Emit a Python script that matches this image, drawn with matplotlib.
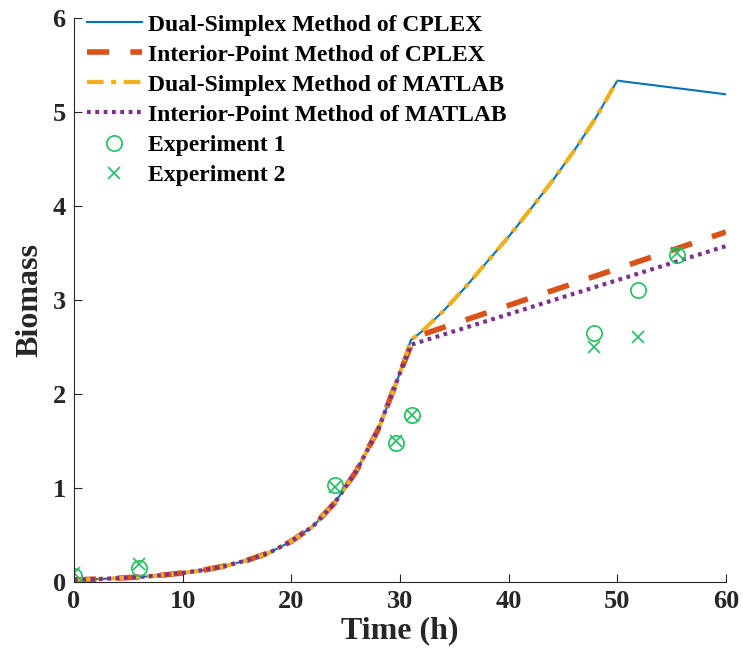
import matplotlib
matplotlib.use("Agg")
import matplotlib.pyplot as plt

plt.rcParams['font.family'] = ['Liberation Serif', 'DejaVu Serif']
plt.rcParams['font.weight'] = 'bold'

# common growth phase
t_growth = [0, 2, 4, 6, 8, 10, 12, 14, 16, 18, 20, 22, 24, 26, 28, 30, 31]
y_growth = [0.02, 0.027, 0.037, 0.05, 0.068, 0.093, 0.125, 0.17, 0.23, 0.31,
            0.43, 0.59, 0.84, 1.18, 1.62, 2.22, 2.57]

# dual simplex continuation
t_ds = [32, 34, 36, 38, 40, 42, 44, 46, 48, 50]
y_ds = [2.66, 2.88, 3.13, 3.40, 3.67, 3.96, 4.26, 4.58, 4.93, 5.33]
t_ds_cplex_end = [60]
y_ds_cplex_end = [5.185]

# interior point continuations
t_ip_cplex = [31.3, 60]
y_ip_cplex = [2.60, 3.72]
t_ip_matlab = [31, 60]
y_ip_matlab = [2.52, 3.57]

# experiments
t_exp1 = [0, 6, 24, 29.6, 31.1, 47.9, 51.9, 55.5]
y_exp1 = [0.06, 0.15, 1.03, 1.48, 1.77, 2.65, 3.10, 3.48]
t_exp2 = [0, 6, 24, 29.6, 31.1, 47.9, 51.9, 55.5]
y_exp2 = [0.09, 0.19, 1.01, 1.50, 1.77, 2.50, 2.60, 3.50]

labels = ["Dual-Simplex Method of CPLEX", "Interior-Point Method of CPLEX",
          "Dual-Simplex Method of MATLAB", "Interior-Point Method of MATLAB",
          "Experiment 1", "Experiment 2"]

c_blue = '#0072BD'
c_orange = '#D95319'
c_yellow = '#EDB120'
c_purple = '#7E2F8E'
c_green = '#1FC060'

fig = plt.figure(figsize=(7.43, 6.67), dpi=100)
ax = fig.add_axes([0.0996, 0.1279, 0.8774, 0.8456])

t_blue = t_growth + t_ds + t_ds_cplex_end
y_blue = y_growth + y_ds + y_ds_cplex_end
t_or = t_growth[:-1] + t_ip_cplex
y_or = y_growth[:-1] + y_ip_cplex
t_ye = t_growth + t_ds
y_ye = y_growth + y_ds
t_pu = t_growth[:-1] + t_ip_matlab
y_pu = y_growth[:-1] + y_ip_matlab

ax.plot(t_blue, y_blue, color=c_blue, lw=1.5, label=labels[0])
ax.plot(t_or, y_or, color=c_orange, lw=4.0, dashes=(4.0, 3.8), label=labels[1])
ax.plot(t_ye, y_ye, color=c_yellow, lw=3.0, dashes=(4, 1.8, 1.2, 1.8), label=labels[2])
ax.plot(t_pu, y_pu, color=c_purple, lw=3.0, dashes=(0.9, 1.1), label=labels[3])
ax.plot(t_exp1, y_exp1, 'o', mfc='none', mec=c_green, mew=1.2, ms=11, ls='none', label=labels[4])
ax.plot(t_exp2, y_exp2, 'x', color=c_green, mew=1.2, ms=8, ls='none', label=labels[5])

ax.set_xlim(0, 60)
ax.set_ylim(0, 6)
ax.set_xticks([0, 10, 20, 30, 40, 50, 60])
ax.set_yticks([0, 1, 2, 3, 4, 5, 6])
for s in ['top', 'right']:
    ax.spines[s].set_visible(False)
for s in ['left', 'bottom']:
    ax.spines[s].set_color('#262626')
    ax.spines[s].set_linewidth(0.8)
ax.tick_params(direction='in', length=5.5, width=0.8, color='#262626',
               labelsize=19, labelcolor='#262626', pad=6)
for lab in ax.get_xticklabels() + ax.get_yticklabels():
    lab.set_fontweight('bold')
ax.set_xlabel('Time (h)', fontsize=23, fontweight='bold', color='#262626', labelpad=2)
ax.set_ylabel('Biomass', fontsize=23, fontweight='bold', color='#262626', labelpad=6)

leg = ax.legend(loc='upper left', bbox_to_anchor=(0.005, 1.023), frameon=False,
                prop={'size': 17, 'weight': 'bold'}, handlelength=2.35,
                handletextpad=0.25, labelspacing=0.36, borderaxespad=0)

fig.savefig('out.png', dpi=100)
